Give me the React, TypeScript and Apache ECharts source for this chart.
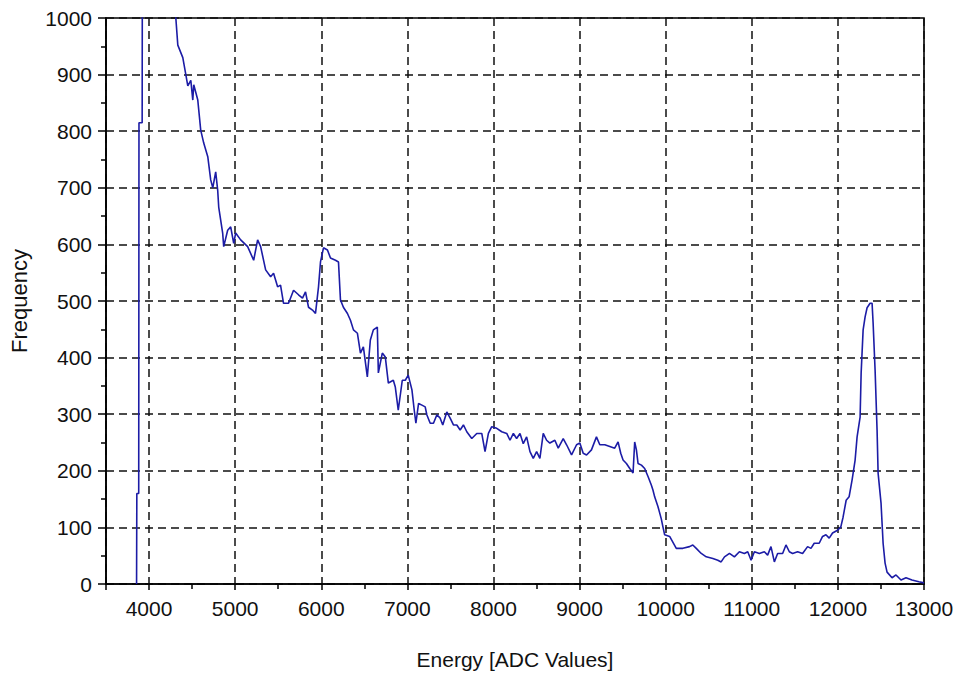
import React, { useEffect, useRef } from "react";
import * as echarts from "echarts";

const energy = [
  3855, 3858, 3880, 3883, 3920, 3925, 4200, 4290, 4311, 4334, 4392, 4427, 4450, 4485, 4508, 4519, 4566,
  4600, 4635, 4682, 4716, 4740, 4774, 4797, 4809, 4855, 4867, 4913, 4948, 4983, 5006, 5064, 5145, 5215, 5261,
  5296, 5354, 5412, 5446, 5493, 5527, 5562, 5620, 5678, 5736, 5782, 5817, 5852, 5898, 5933, 5968, 5991, 6026,
  6072, 6107, 6165, 6200, 6223, 6257, 6304, 6339, 6374, 6420, 6455, 6489, 6535, 6570, 6605, 6651, 6663, 6709,
  6744, 6779, 6837, 6860, 6894, 6941, 6976, 7010, 7053, 7080, 7099, 7130, 7169, 7207, 7226, 7265, 7303, 7343,
  7381, 7411, 7458, 7497, 7535, 7574, 7613, 7651, 7690, 7748, 7806, 7864, 7902, 7941, 7980, 8038, 8096, 8154,
  8192, 8231, 8269, 8308, 8346, 8385, 8424, 8462, 8501, 8539, 8578, 8617, 8655, 8713, 8752, 8810, 8849, 8907,
  8965, 9003, 9042, 9081, 9138, 9196, 9235, 9293, 9351, 9408, 9447, 9478, 9505, 9544, 9583, 9621, 9640, 9660,
  9679, 9718, 9756, 9795, 9833, 9852, 9872, 9910, 9949, 9968, 9988, 10046, 10123, 10200, 10277, 10315, 10355,
  10413, 10471, 10548, 10605, 10644, 10683, 10741, 10798, 10856, 10914, 10953, 10992, 11030, 11088, 11146,
  11184, 11223, 11262, 11300, 11358, 11397, 11436, 11474, 11532, 11590, 11648, 11687, 11725, 11783, 11822,
  11861, 11899, 11938, 11996, 12034, 12060, 12096, 12130, 12165, 12200, 12223, 12258, 12270, 12293, 12316,
  12339, 12374, 12397, 12409, 12432, 12455, 12467, 12501, 12525, 12548, 12571, 12629, 12675, 12733, 12791,
  12860, 12941, 13000,
];

const frequency = [
  0, 160, 160, 815, 815, 1500, 1400, 1050, 1000, 952, 930, 900, 880, 890, 855, 882, 855,
  802, 779, 755, 714, 700, 728, 696, 666, 620, 596, 625, 631, 602, 620, 608, 596, 572, 608,
  596, 555, 543, 549, 525, 528, 496, 496, 519, 511, 505, 516, 489, 484, 478, 525, 569, 594,
  590, 576, 572, 569, 502, 489, 478, 466, 449, 443, 408, 419, 366, 431, 449, 454, 373, 408,
  401, 355, 360, 348, 307, 360, 360, 369, 343, 307, 284, 319, 316, 313, 299, 284, 284, 299,
  293, 281, 304, 293, 281, 281, 272, 281, 269, 257, 266, 266, 234, 266, 278, 275, 269, 266,
  254, 266, 257, 266, 248, 260, 234, 222, 234, 222, 266, 254, 249, 254, 240, 257, 246, 228,
  246, 249, 231, 228, 237, 260, 246, 246, 243, 240, 251, 231, 219, 213, 204, 196, 251, 237,
  213, 210, 204, 190, 175, 166, 154, 137, 115, 101, 87, 84, 63, 63, 66, 69, 63,
  54, 48, 45, 42, 39, 48, 54, 48, 57, 54, 57, 42, 57, 54, 57,
  51, 66, 39, 54, 54, 69, 57, 54, 57, 54, 66, 63, 72, 72, 84,
  87, 81, 90, 95, 101, 118, 148, 154, 184, 219, 260, 295, 373, 449, 472,
  488, 496, 496, 461, 378, 272, 196, 143, 72, 37, 21, 11, 16, 7, 11,
  7, 4, 2,
];

const xMin = 3500;
const xMax = 13000;
const yMin = 0;
const yMax = 1000;
const xLabel = "Energy [ADC Values]";
const yLabel = "Frequency";

export default function App() {
  const ref = useRef<HTMLDivElement>(null);
  useEffect(() => {
    if (!ref.current) return;
    const chart = echarts.init(ref.current, null, { renderer: "svg" });
    const font = "Liberation Sans";
    const dashed = { color: "#111", width: 1.5, type: [8, 5] as any };
    const plain = (v: number) => String(v);
    chart.setOption({
      animation: false,
      backgroundColor: "#fff",
      grid: {
        left: 104,
        right: 34,
        top: 18,
        bottom: 91,
        show: true,
        borderColor: "#000",
        borderWidth: 1.6,
        backgroundColor: "transparent",
      },
      xAxis: {
        type: "value",
        min: xMin,
        max: xMax,
        splitNumber: 10,
        name: xLabel,
        nameLocation: "middle",
        nameGap: 65,
        nameTextStyle: { fontFamily: font, fontSize: 21, color: "#111" },
        axisLine: { show: true, onZero: false, lineStyle: { color: "#000", width: 1.6 } },
        axisTick: { show: true, length: 6, lineStyle: { color: "#000", width: 1.5 } },
        minorTick: { show: true, splitNumber: 2, length: 5, lineStyle: { color: "#000", width: 1.5 } },
        axisLabel: {
          showMinLabel: false,
          margin: 14,
          fontFamily: font,
          fontSize: 21,
          color: "#111",
          formatter: plain,
        },
        splitLine: { show: true, lineStyle: dashed },
      },
      yAxis: {
        type: "value",
        min: yMin,
        max: yMax,
        interval: 100,
        name: yLabel,
        nameLocation: "middle",
        nameGap: 76,
        nameTextStyle: { fontFamily: font, fontSize: 22, color: "#111" },
        axisLine: { show: true, lineStyle: { color: "#000", width: 1.6 } },
        axisTick: { show: true, length: 8, lineStyle: { color: "#000", width: 1.5 } },
        minorTick: { show: true, splitNumber: 2, length: 5, lineStyle: { color: "#000", width: 1.5 } },
        axisLabel: { margin: 14, fontFamily: font, fontSize: 21, color: "#111", formatter: plain },
        splitLine: { show: true, lineStyle: dashed },
      },
      series: [
        {
          type: "line",
          data: energy.map((e, i) => [e, frequency[i]]),
          showSymbol: false,
          symbol: "none",
          clip: true,
          lineStyle: { color: "#1c1ca6", width: 1.6 },
        },
      ],
    });
    return () => chart.dispose();
  }, []);
  return (
    <div
      ref={ref}
      style={{ position: "fixed", left: 0, top: 0, width: 958, height: 675, background: "#fff" }}
    />
  );
}
